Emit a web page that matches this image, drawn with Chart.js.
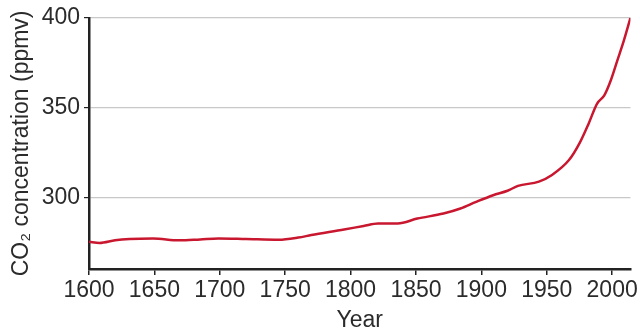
<!DOCTYPE html>
<html>
<head>
<meta charset="utf-8">
<script src="https://cdn.jsdelivr.net/npm/chart.js@4/dist/chart.umd.min.js"></script>
<style>
  html, body { margin: 0; padding: 0; background: #fff; }
  #wrap { width: 640px; height: 334px; }
</style>
</head>
<body>
<div id="wrap"><canvas id="myChart" width="640" height="334"></canvas></div>
<script>
// values
var years = [1600, 1608, 1620, 1631, 1649, 1669, 1685, 1699, 1720, 1745, 1760, 1770, 1795, 1810, 1821, 1836,
             1851, 1871, 1884, 1896, 1909, 1920, 1928, 1944, 1954, 1967, 1975, 1982, 1988.5, 1994, 1999, 2004, 2009, 2014];
var ppmv = [275.2, 274.5, 276, 276.7, 277, 276, 276.5, 277, 276.7, 276.3, 277.5, 278.9, 282, 284, 285.4, 285.4,
            288.1, 290.9, 293.7, 297.4, 301.1, 303.6, 306.3, 308.7, 312.4, 320.7, 330, 341, 352.2, 356.8, 365.2, 376.3, 387.4, 400];
var xTicks = [1600, 1650, 1700, 1750, 1800, 1850, 1900, 1950, 2000];
var yTicks = [300, 350, 400];

var points = years.map(function (y, i) { return { x: y, y: ppmv[i] }; });
var fontFamily = "'Liberation Sans', Arial, sans-serif";
var textColor = '#2b2b2b';

var ctx = document.getElementById('myChart').getContext('2d');
var myChart = new Chart(ctx, {
  type: 'line',
  data: {
    datasets: [{
      data: points,
      borderColor: '#c8172f',
      borderWidth: 2.5,
      pointRadius: 0,
      cubicInterpolationMode: 'monotone',
      fill: false
    }]
  },
  options: {
    responsive: false,
    animation: false,
    layout: { padding: { top: 17, right: 8, left: 0, bottom: 0 } },
    plugins: {
      legend: { display: false },
      tooltip: { enabled: false }
    },
    scales: {
      x: {
        type: 'linear',
        min: 1600,
        max: 2014,
        afterBuildTicks: function (scale) {
          scale.ticks = xTicks.map(function (v) { return { value: v }; });
        },
        afterFit: function (scale) { scale.height = 65; },
        border: { color: '#222', width: 2.5 },
        grid: { drawOnChartArea: false, tickColor: '#222', tickLength: 6, lineWidth: 1.5 },
        ticks: {
          color: textColor, padding: 2, maxRotation: 0,
          font: { family: fontFamily, size: 23 },
          callback: function (v) { return String(v); }
        },
        title: {
          display: true,
          text: 'Year',
          color: textColor,
          padding: { top: 0, bottom: 0 },
          font: { family: fontFamily, size: 23 }
        }
      },
      y: {
        min: 260,
        max: 400,
        afterBuildTicks: function (scale) {
          scale.ticks = yTicks.map(function (v) { return { value: v }; });
        },
        afterFit: function (scale) { scale.width = 89; },
        border: { color: '#222', width: 2.5 },
        grid: { color: '#c8c8c8', lineWidth: 1.2, tickColor: '#222', tickLength: 5 },
        ticks: {
          color: textColor, padding: 4,
          font: { family: fontFamily, size: 23 },
          callback: function (v) { return String(v); }
        },
        title: {
          display: true,
          text: 'CO\u2082 concentration (ppmv)',
          color: textColor,
          padding: { top: 8, bottom: 0 },
          font: { family: fontFamily, size: 23 }
        }
      }
    }
  }
});
</script>
</body>
</html>
